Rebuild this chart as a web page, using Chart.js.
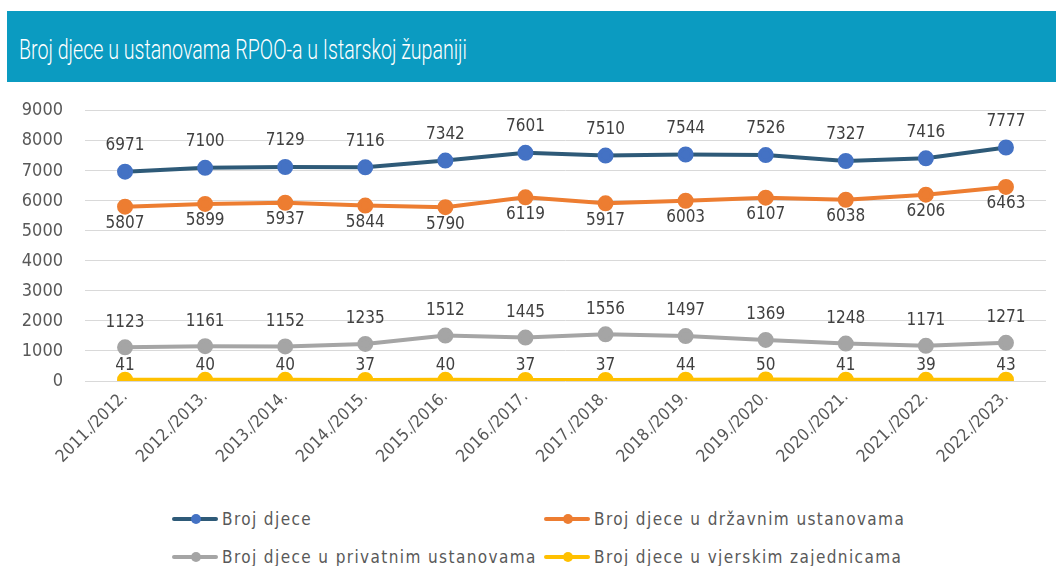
<!DOCTYPE html>
<html>
<head>
<meta charset="utf-8">
<script src="https://cdn.jsdelivr.net/npm/chart.js@4.4.0/dist/chart.umd.min.js"></script>
<style>
  html, body { margin: 0; padding: 0; background: #ffffff; width: 1056px; height: 566px; overflow: hidden; position: relative; }
  #header { position: absolute; left: 7px; top: 11px; width: 1049px; height: 71px; background: #0b9bc1; }
  #title { position: absolute; left: 12px; top: 23px; color: #ffffff; font-family: Roboto, sans-serif; font-weight: 300; font-size: 28px; line-height: 32px; white-space: nowrap; transform-origin: 0 0; }
  #wrap { position: absolute; left: 0; top: 78px; width: 1056px; height: 422px; }
  .leg { position: absolute; font-family: 'DejaVu Sans Condensed', 'DejaVu Sans', sans-serif; font-size: 17px; color: #595959; white-space: nowrap; height: 20px; line-height: 20px; }
  .leg .mk { position: absolute; left: 0; top: 8px; width: 46px; height: 4px; border-radius: 2px; }
  .leg .dot { position: absolute; left: 19px; top: 5px; width: 10px; height: 10px; border-radius: 50%; }
  .leg .tx { position: absolute; left: 50px; top: 0; letter-spacing: 1.4px; }
</style>
</head>
<body>
<div id="header"><div id="title">Broj djece u ustanovama RPOO-a u Istarskoj županiji</div></div>
<div id="wrap"><canvas id="c"></canvas></div>
<div id="legend"></div>
<script>
const categories = ["2011./2012.","2012./2013.","2013./2014.","2014./2015.","2015./2016.","2016./2017.","2017./2018.","2018./2019.","2019./2020.","2020./2021.","2021./2022.","2022./2023."];
const seriesNames = ["Broj djece","Broj djece u državnim ustanovama","Broj djece u privatnim ustanovama","Broj djece u vjerskim zajednicama"];
const brojDjece = [6971,7100,7129,7116,7342,7601,7510,7544,7526,7327,7416,7777];
const drzavnim = [5807,5899,5937,5844,5790,6119,5917,6003,6107,6038,6206,6463];
const privatnim = [1123,1161,1152,1235,1512,1445,1556,1497,1369,1248,1171,1271];
const vjerskim = [41,40,40,37,40,37,37,44,50,41,39,43];
const yTicks = [0,1000,2000,3000,4000,5000,6000,7000,8000,9000];

// fit title width
(function(){
  const t = document.getElementById('title');
  const w = t.getBoundingClientRect().width;
  t.style.transform = 'scaleX(' + (448 / w) + ')';
})();

const FONT = "'DejaVu Sans Condensed', 'DejaVu Sans', sans-serif";

const dataLabels = {
  id: 'dataLabels',
  afterDatasetsDraw(chart) {
    const ctx = chart.ctx;
    ctx.save();
    ctx.font = '17px ' + FONT;
    ctx.fillStyle = '#404040';
    ctx.textAlign = 'center';
    ctx.textBaseline = 'middle';
    chart.data.datasets.forEach((ds, i) => {
      const meta = chart.getDatasetMeta(i);
      meta.data.forEach((pt, j) => {
        ctx.fillText(String(ds.data[j]), pt.x, pt.y + ds.labelOffset);
      });
    });
    ctx.restore();
  }
};

function ds(label, data, line, point, off) {
  return {
    label, data, borderColor: line, backgroundColor: point,
    pointBackgroundColor: point, pointBorderColor: point,
    borderWidth: 4, pointRadius: 6, pointHoverRadius: 6, tension: 0,
    labelOffset: off
  };
}

const chart = new Chart(document.getElementById('c'), {
  type: 'line',
  data: {
    labels: categories,
    datasets: [
      ds(seriesNames[0], brojDjece, '#2e5a78', '#4472c4', -26),
      ds(seriesNames[1], drzavnim, '#ed7d31', '#ed7d31', 17),
      ds(seriesNames[2], privatnim, '#a5a5a5', '#a5a5a5', -25),
      ds(seriesNames[3], vjerskim, '#ffc000', '#ffc000', -14)
    ]
  },
  options: {
    responsive: true,
    maintainAspectRatio: false,
    animation: false,
    layout: { padding: { top: 15, right: 9, left: 0, bottom: 0 } },
    plugins: { legend: { display: false }, tooltip: { enabled: false } },
    scales: {
      x: {
        offset: true,
        grid: { display: false, drawTicks: false },
        border: { display: false },
        ticks: { color: '#595959', font: { family: FONT, size: 17 }, minRotation: 45, maxRotation: 45, padding: 6, autoSkip: false },
        afterFit(s) { s.height = 119; }
      },
      y: {
        min: 0, max: 9000,
        afterBuildTicks(s) { s.ticks = yTicks.map(v => ({ value: v })); },
        grid: { color: '#d9d9d9', lineWidth: 1, drawTicks: false },
        border: { display: false },
        ticks: { color: '#595959', font: { family: FONT, size: 18 }, padding: 22, callback: (v) => String(v) },
        afterFit(s) { s.width = 85; }
      }
    }
  },
  plugins: [dataLabels]
});

// legend
(function(){
  const pos = [[172, 509], [544, 509], [172, 547], [544, 547]];
  const lg = document.getElementById('legend');
  chart.data.datasets.forEach((d, i) => {
    const el = document.createElement('div');
    el.className = 'leg';
    el.style.left = pos[i][0] + 'px';
    el.style.top = pos[i][1] + 'px';
    el.innerHTML = '<div class="mk" style="background:' + d.borderColor + '"></div>' +
      '<div class="dot" style="background:' + d.pointBackgroundColor + '"></div>' +
      '<span class="tx"></span>';
    el.querySelector('.tx').textContent = d.label;
    lg.appendChild(el);
  });
})();
</script>
</body>
</html>
